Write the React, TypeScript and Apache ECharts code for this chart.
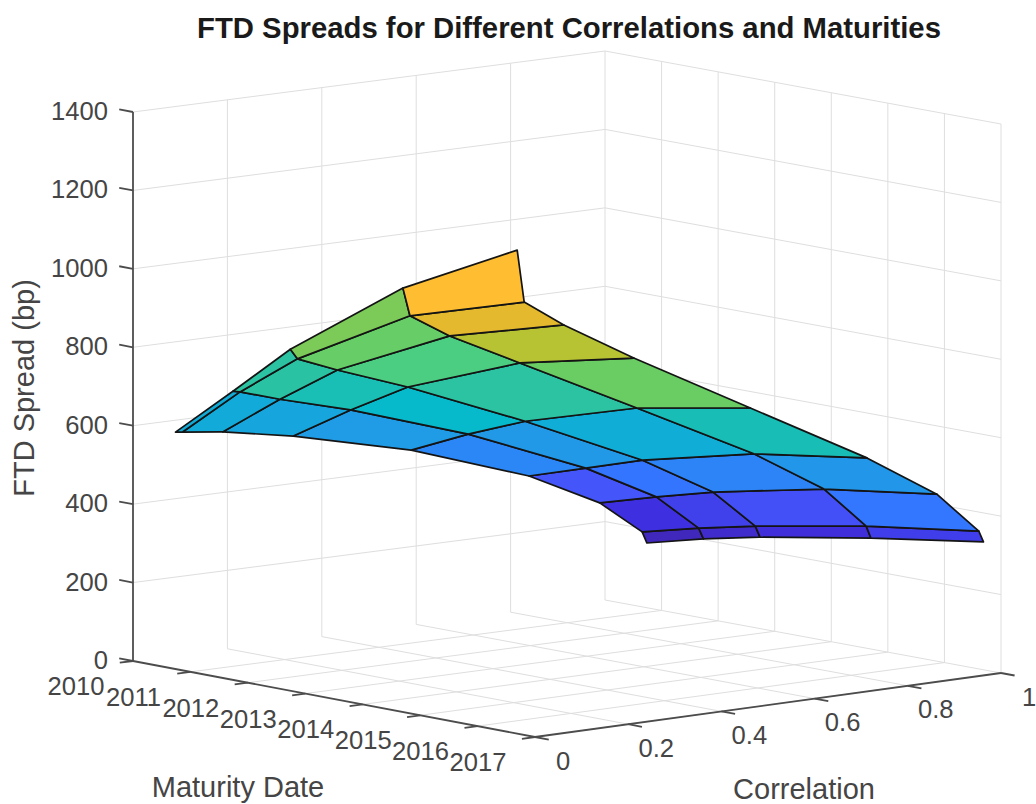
import React, { useEffect, useRef } from "react";
import * as echarts from "echarts";

const chartTitle = "FTD Spreads for Different Correlations and Maturities";
const maturityName = "Maturity Date";
const correlationName = "Correlation";
const spreadName = "FTD Spread (bp)";

const maturityTicks = [2010, 2011, 2012, 2013, 2014, 2015, 2016, 2017];
const correlationTicks = [0, 0.2, 0.4, 0.6, 0.8, 1];
const spreadTicks = [0, 200, 400, 600, 800, 1000, 1200, 1400];

const maturities = [2010.74, 2011.74, 2012.74, 2014.7, 2016.69];
const correlations = [0, 0.015, 0.1, 0.25, 0.5, 0.75, 0.9, 0.99, 1];
const spreads1y = [604, 602, 589, 555, 480, 375, 283, 195, 165];
const spreads2y = [736, 732, 700, 649, 548, 422, 325, 231, 202];
const spreads3y = [871, 844, 802, 735, 608, 469, 364, 263, 233];
const spreads5y = [1081, 1008, 943, 850, 695, 538, 424, 315, 283];
const spreads7y = [1233, 1098, 1026, 917, 749, 581, 464, 355, 326];
const spreads = [spreads1y, spreads2y, spreads3y, spreads5y, spreads7y];

// Colour ramp (fraction, r, g, b)
const ramp = [
  [0, 62, 38, 168], [0.03, 65, 40, 190], [0.11, 62, 48, 225], [0.197, 68, 85, 250],
  [0.245, 50, 120, 255], [0.365, 32, 155, 230], [0.45, 5, 185, 205], [0.5, 25, 190, 180],
  [0.596, 75, 205, 130], [0.64, 105, 205, 100], [0.73, 185, 195, 50], [0.79, 230, 185, 45],
  [0.858, 255, 190, 50], [1, 249, 251, 21],
];

function rampColor(f: number) {
  for (let i = 1; i < ramp.length; i++) {
    if (f <= ramp[i][0]) {
      const a = ramp[i - 1], b = ramp[i];
      const t = (f - a[0]) / (b[0] - a[0]);
      return `rgb(${[1, 2, 3].map((k) => Math.round(a[k] + (b[k] - a[k]) * t)).join(",")})`;
    }
  }
  return "rgb(249,251,21)";
}

// View of the 3D box on the page plane
const cornerA = [133, 661];
const cornerB = [535, 737];
const cornerC = [1001, 673];
const cornerD = [605, 600];
const heightPerUnit = 549 / 1400;

function project(mat: number, corr: number, z: number) {
  const u = (mat - 2010) / 7, v = corr;
  const at = (k: number) =>
    cornerA[k] * (1 - u) * (1 - v) + cornerB[k] * u * (1 - v) + cornerC[k] * u * v + cornerD[k] * (1 - u) * v;
  return [at(0), at(1) - z * heightPerUnit];
}

const M0 = maturityTicks[0], M1 = maturityTicks[maturityTicks.length - 1];
const Z1 = spreadTicks[spreadTicks.length - 1];

type P3 = [number, number, number];
const gridSegments: [P3, P3][] = [];
spreadTicks.forEach((z) => {
  if (z > 0) {
    gridSegments.push([[M0, 0, z], [M0, 1, z]]);
    gridSegments.push([[M0, 1, z], [M1, 1, z]]);
  }
});
correlationTicks.forEach((c) => {
  if (c > 0) gridSegments.push([[M0, c, 0], [M0, c, Z1]]);
  if (c > 0) gridSegments.push([[M0, c, 0], [M1, c, 0]]);
});
maturityTicks.forEach((m) => {
  if (m > M0) gridSegments.push([[m, 1, 0], [m, 1, Z1]]);
  if (m > M0) gridSegments.push([[m, 0, 0], [m, 1, 0]]);
});

const axisSegments: [P3, P3][] = [
  [[M0, 0, 0], [M0, 0, Z1]],
  [[M0, 0, 0], [M1, 0, 0]],
  [[M1, 0, 0], [M1, 1, 0]],
];
const tickLenM = 0.24, tickLenC = 0.028;
spreadTicks.forEach((z) => axisSegments.push([[M0, 0, z], [M0 - tickLenM, 0, z]]));
maturityTicks.forEach((m) => axisSegments.push([[m, 0, 0], [m, -tickLenC, 0]]));
correlationTicks.forEach((c) => axisSegments.push([[M1, c, 0], [M1 + tickLenM, c, 0]]));

const cells: number[][] = [];
for (let i = 0; i < maturities.length - 1; i++) {
  for (let j = correlations.length - 2; j >= 0; j--) cells.push([i, j]);
}
const allZ = spreads.flat();
const zMin = Math.min(...allZ), zMax = Math.max(...allZ);

const fontFamily = "'Liberation Sans', Arial, sans-serif";
const tickFont = `25.6px ${fontFamily}`;
const nameFont = `29px ${fontFamily}`;
const labelColor = "#454545";

type Lab = { text: string; at: P3; dx: number; dy: number; align: string };
const tickLabels: Lab[] = [
  ...spreadTicks.map((z) => ({ text: String(z), at: [M0, 0, z] as P3, dx: -25, dy: -1, align: "right" })),
  ...maturityTicks.map((m) => ({ text: String(m), at: [m, 0, 0] as P3, dx: -57, dy: 25, align: "center" })),
  ...correlationTicks.map((c) => ({ text: String(c), at: [M1, c, 0] as P3, dx: 28, dy: 23.5, align: "center" })),
];

export default function App() {
  const ref = useRef<HTMLDivElement>(null);
  useEffect(() => {
    const chart = echarts.init(ref.current!, undefined, { renderer: "svg" });
    const segSeries = (segs: [P3, P3][], color: string, width: number, z: number) => ({
      type: "custom",
      coordinateSystem: "cartesian2d",
      silent: true,
      clip: false,
      z,
      encode: { x: 0, y: 1 },
      data: segs.map((_, i) => [i, i]),
      renderItem: (params: any, api: any) => {
        const [a, b] = segs[params.dataIndex];
        const pa = api.coord(project(a[0], a[1], a[2]));
        const pb = api.coord(project(b[0], b[1], b[2]));
        return {
          type: "line",
          shape: { x1: pa[0], y1: pa[1], x2: pb[0], y2: pb[1] },
          style: { stroke: color, lineWidth: width },
        };
      },
    });
    chart.setOption({
      animation: false,
      backgroundColor: "#ffffff",
      title: {
        text: chartTitle,
        left: 564,
        top: 8,
        textAlign: "center",
        textStyle: { fontFamily, fontWeight: "bold", fontSize: 29.3, color: "#1a1a1a" },
      },
      grid: { left: 0, right: 0, top: 0, bottom: 0 },
      xAxis: { type: "value", min: 0, max: 1036, show: false },
      yAxis: { type: "value", min: 0, max: 804, inverse: true, show: false },
      series: [
        segSeries(gridSegments, "#dedede", 1, 1),
        segSeries(axisSegments, "#4c4c4c", 1.8, 2),
        {
          type: "custom",
          coordinateSystem: "cartesian2d",
          silent: true,
          clip: false,
          z: 3,
          encode: { x: 0, y: 1 },
          data: cells,
          renderItem: (params: any, api: any) => {
            const [i, j] = cells[params.dataIndex];
            const pts = [[i, j], [i + 1, j], [i + 1, j + 1], [i, j + 1]].map(([a, b]) =>
              api.coord(project(maturities[a], correlations[b], spreads[a][b]))
            );
            return {
              type: "polygon",
              shape: { points: pts },
              style: {
                fill: rampColor((spreads[i][j] - zMin) / (zMax - zMin)),
                stroke: "#141414",
                lineWidth: 1.7,
                lineJoin: "round",
              },
            };
          },
        },
        {
          type: "custom",
          coordinateSystem: "cartesian2d",
          silent: true,
          clip: false,
          z: 4,
          encode: { x: 0, y: 1 },
          data: tickLabels.map((_, i) => [i, i]),
          renderItem: (params: any, api: any) => {
            const l = tickLabels[params.dataIndex];
            const p = api.coord(project(l.at[0], l.at[1], l.at[2]));
            return {
              type: "text",
              x: p[0] + l.dx,
              y: p[1] + l.dy,
              style: { text: l.text, fill: labelColor, font: tickFont, align: l.align, verticalAlign: "middle" },
            };
          },
        },
      ],
      graphic: [
        { type: "text", x: 238, y: 787, style: { text: maturityName, fill: labelColor, font: nameFont, align: "center", verticalAlign: "middle" } },
        { type: "text", x: 804, y: 789, style: { text: correlationName, fill: labelColor, font: nameFont, align: "center", verticalAlign: "middle" } },
        { type: "text", x: 24, y: 388, rotation: Math.PI / 2, style: { text: spreadName, fill: labelColor, font: nameFont, align: "center", verticalAlign: "middle" } },
      ],
    });
    return () => chart.dispose();
  }, []);
  return <div ref={ref} style={{ position: "fixed", left: 0, top: 0, width: 1036, height: 804 }} />;
}
